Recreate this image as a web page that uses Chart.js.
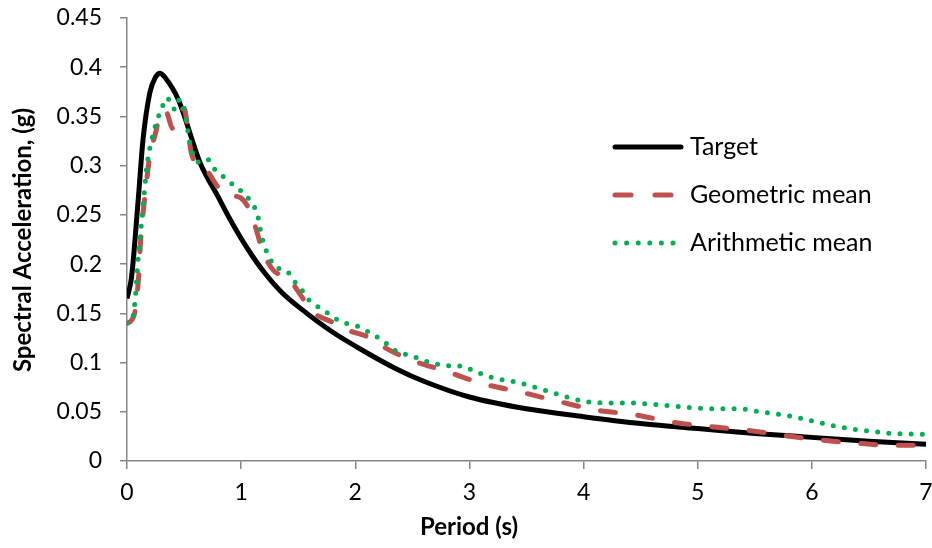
<!DOCTYPE html>
<html>
<head>
<meta charset="utf-8">
<script src="https://cdn.jsdelivr.net/npm/chart.js@4.4.1/dist/chart.umd.min.js"></script>
<style>
  html, body { margin: 0; padding: 0; background: #fff; }
  #wrap { width: 932px; height: 548px; }
</style>
</head>
<body>
<div id="wrap"><canvas id="myChart" width="932" height="548"></canvas></div>
<script>
// periods (s) and spectral acceleration (g)
const targetPeriod = [0, 0.04, 0.1, 0.14, 0.2, 0.25, 0.29, 0.33, 0.45, 0.64, 0.8, 0.9, 1.0, 1.1, 1.2, 1.35, 1.52, 1.8, 2.1, 2.37, 2.6, 3.0, 3.5, 4.0, 4.5, 5.0, 5.5, 6.0, 6.5, 7.0];
const targetSa = [0.165, 0.187, 0.268, 0.326, 0.374, 0.39, 0.394, 0.39, 0.367, 0.303, 0.268, 0.246, 0.226, 0.208, 0.192, 0.172, 0.155, 0.131, 0.11, 0.093, 0.081, 0.065, 0.053, 0.045, 0.038, 0.033, 0.028, 0.024, 0.02, 0.017];

const geoPeriod = [0, 0.04, 0.07, 0.1, 0.12, 0.16, 0.2, 0.25, 0.3, 0.34, 0.4, 0.44, 0.5, 0.53, 0.56, 0.6, 0.7, 0.8, 0.9, 1.0, 1.08, 1.14, 1.18, 1.28, 1.41, 1.53, 1.61, 1.8, 1.93, 2.11, 2.23, 2.48, 2.8, 3.1, 3.45, 3.8, 4.1, 4.45, 4.75, 5.1, 5.45, 5.75, 6.1, 6.4, 6.7, 7.0];
const geoSa = [0.14, 0.143, 0.152, 0.184, 0.225, 0.272, 0.31, 0.333, 0.355, 0.355, 0.338, 0.35, 0.358, 0.34, 0.315, 0.303, 0.295, 0.278, 0.27, 0.267, 0.253, 0.232, 0.216, 0.194, 0.186, 0.167, 0.153, 0.141, 0.133, 0.126, 0.117, 0.103, 0.091, 0.079, 0.07, 0.06, 0.052, 0.047, 0.04, 0.035, 0.031, 0.026, 0.021, 0.018, 0.016, 0.016];

const ariPeriod = [0, 0.04, 0.07, 0.1, 0.13, 0.175, 0.22, 0.27, 0.31, 0.35, 0.39, 0.42, 0.46, 0.49, 0.52, 0.55, 0.58, 0.64, 0.71, 0.77, 0.89, 0.96, 1.03, 1.1, 1.14, 1.18, 1.25, 1.31, 1.41, 1.47, 1.53, 1.59, 1.67, 1.76, 1.85, 1.94, 2.04, 2.13, 2.22, 2.3, 2.38, 2.46, 2.66, 2.85, 2.94, 3.03, 3.22, 3.42, 3.6, 3.8, 3.99, 4.17, 4.38, 4.57, 4.76, 4.96, 5.15, 5.36, 5.55, 5.74, 5.84, 6.03, 6.22, 6.42, 6.71, 7.0];
const ariSa = [0.14, 0.142, 0.162, 0.209, 0.245, 0.3, 0.328, 0.348, 0.36, 0.369, 0.362, 0.357, 0.367, 0.362, 0.346, 0.323, 0.311, 0.303, 0.306, 0.296, 0.285, 0.277, 0.272, 0.26, 0.252, 0.228, 0.206, 0.197, 0.192, 0.182, 0.174, 0.164, 0.157, 0.15, 0.143, 0.139, 0.136, 0.13, 0.124, 0.117, 0.11, 0.108, 0.1, 0.0965, 0.0965, 0.092, 0.084, 0.08, 0.074, 0.067, 0.061, 0.059, 0.059, 0.058, 0.056, 0.054, 0.053, 0.053, 0.05, 0.047, 0.045, 0.04, 0.035, 0.0315, 0.028, 0.027];

const seriesNames = ['Target', 'Geometric mean', 'Arithmetic mean'];
const seriesColours = ['#000000', '#C0504D', '#00B050'];

const fontFamily = 'Lato, "Open Sans", sans-serif';
const axisGrey = '#868686';

function toPoints(xs, ys) {
    return xs.map((x, i) => ({ x: x, y: ys[i] }));
}

// legend + axis titles drawn by hand, like the excel sheet
const extras = {
    id: 'extras',
    afterDraw(chart) {
        const ctx = chart.ctx;
        ctx.save();
        // legend
        const rows = [147, 195, 243];
        const dashes = [[], [16, 24], [0, 11.6]];
        rows.forEach((y, i) => {
            ctx.beginPath();
            ctx.strokeStyle = seriesColours[i];
            ctx.lineWidth = 5;
            ctx.lineCap = 'round';
            ctx.setLineDash(dashes[i]);
            ctx.moveTo(615, y);
            ctx.lineTo(i === 2 ? 675 : 681, y);
            ctx.stroke();
            ctx.setLineDash([]);
            ctx.fillStyle = '#000';
            ctx.font = '25px ' + fontFamily;
            ctx.textAlign = 'left';
            ctx.textBaseline = 'middle';
            ctx.fillText(seriesNames[i], 690, y);
        });
        // axis titles
        ctx.font = 'bold 24px ' + fontFamily;
        ctx.textAlign = 'center';
        ctx.textBaseline = 'middle';
        ctx.fillText('Period (s)', 469, 527);
        ctx.translate(23, 240);
        ctx.rotate(-Math.PI / 2);
        ctx.fillText('Spectral Acceleration, (g)', 0, 0);
        ctx.restore();
    }
};

const ctx = document.getElementById('myChart').getContext('2d');

const data = {
    datasets: [{
        label: seriesNames[0],
        data: toPoints(targetPeriod, targetSa),
        borderColor: seriesColours[0],
        borderWidth: 5,
        cubicInterpolationMode: 'monotone',
        borderJoinStyle: 'round',
        pointRadius: 0,
        order: 3,
    }, {
        label: seriesNames[1],
        data: toPoints(geoPeriod, geoSa),
        borderColor: seriesColours[1],
        borderWidth: 5,
        borderDash: [15, 22.5],
        borderCapStyle: 'round',
        borderJoinStyle: 'round',
        cubicInterpolationMode: 'monotone',
        pointRadius: 0,
        order: 2,
    }, {
        label: seriesNames[2],
        data: toPoints(ariPeriod, ariSa),
        borderColor: seriesColours[2],
        borderWidth: 5,
        borderDash: [0, 11.2],
        borderCapStyle: 'round',
        borderJoinStyle: 'round',
        cubicInterpolationMode: 'monotone',
        pointRadius: 0,
        order: 1,
    }]
};

const myChart = new Chart(ctx, {
    type: 'line',
    data: data,
    plugins: [extras],
    options: {
        responsive: false,
        animation: false,
        layout: {
            padding: { top: 18, right: 6, left: 0, bottom: 0 }
        },
        plugins: {
            legend: { display: false },
            tooltip: { enabled: false },
        },
        scales: {
            x: {
                type: 'linear',
                min: 0,
                max: 7,
                afterFit: (scale) => {
                    scale.height = 87;
                    scale.paddingLeft = 0;
                    scale.paddingRight = 0;
                },
                border: { color: axisGrey, width: 1.5 },
                grid: { drawOnChartArea: false, tickLength: 8, color: axisGrey, lineWidth: 1.5 },
                ticks: {
                    stepSize: 1,
                    padding: 10,
                    color: '#000',
                    font: { family: fontFamily, size: 23 },
                    maxRotation: 0,
                },
            },
            y: {
                min: 0,
                max: 0.45,
                afterFit: (scale) => {
                    scale.width = 127;
                    scale.paddingTop = 0;
                    scale.paddingBottom = 0;
                },
                border: { color: axisGrey, width: 1.5 },
                grid: { drawOnChartArea: false, tickLength: 7, color: axisGrey, lineWidth: 1.5 },
                ticks: {
                    stepSize: 0.05,
                    padding: 18,
                    color: '#000',
                    font: { family: fontFamily, size: 23 },
                    callback: (v) => String(Number(v.toFixed(2))),
                },
            },
        }
    }
});
</script>
</body>
</html>
